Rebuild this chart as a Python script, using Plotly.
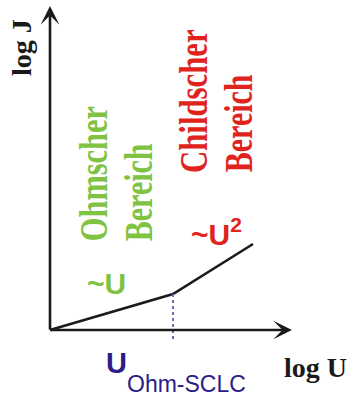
import json
import plotly.graph_objects as go

# Data (log U, log J) in arbitrary log units
log_u = [0, 12.3, 20.3]
log_j = [0, 3.6, 8.6]
u_ohm_sclc = 12.3
j_ohm_sclc = 3.6

# axis extents (arbitrary units)
x_axis_end = 24.2
y_axis_end = 32.4

BLACK = "#1a1a1a"
GREEN = "#80c241"
RED = "#e0241d"
DOT = "#6c6cb8"
NAVY = "#2b1c86"
SERIF = "Liberation Serif, Times New Roman, serif"
SANS = "Liberation Sans, Arial, sans-serif"

fig = go.Figure()

# curve
fig.add_trace(go.Scatter(x=log_u, y=log_j, mode="lines",
                         line=dict(color=BLACK, width=2.6), hoverinfo="skip"))
# dotted marker at crossover voltage
fig.add_trace(go.Scatter(x=[u_ohm_sclc, u_ohm_sclc], y=[j_ohm_sclc, -1.2], mode="lines",
                         line=dict(color=DOT, width=2, dash="dot"), hoverinfo="skip"))

annotations = []
condense = {}
# axes arrows
annotations.append(dict(x=0, y=y_axis_end, ax=0, ay=-0.1, xref="x", yref="y", axref="x", ayref="y",
                        text="", showarrow=True, arrowhead=3, arrowsize=1.2, arrowwidth=2.6,
                        arrowcolor=BLACK, standoff=0))
annotations.append(dict(x=x_axis_end, y=0, ax=-0.1, ay=0, xref="x", yref="y", axref="x", ayref="y",
                        text="", showarrow=True, arrowhead=3, arrowsize=1.2, arrowwidth=2.6,
                        arrowcolor=BLACK, standoff=0))

def txt(x, y, text, size, color, family, angle=0, bold=False, squeeze=None):
    t = f"<b>{text}</b>" if bold else text
    if squeeze:
        condense[str(len(annotations))] = squeeze
    annotations.append(dict(x=x, y=y, xref="x", yref="y", text=t, showarrow=False,
                            font=dict(size=size, color=color, family=family),
                            textangle=angle, xanchor="center", yanchor="middle"))

txt(-2.9, 28.2, "log J", 28, BLACK, SERIF, -90, True)
txt(26.5, -3.7, "log U", 28, BLACK, SERIF, 0, True)
txt(4.4, 15.65, "Ohmscher", 40, GREEN, SERIF, -90, True, 0.76)
txt(8.9, 13.75, "Bereich", 40, GREEN, SERIF, -90, True, 0.75)
txt(14.4, 22.85, "Childscher", 40, RED, SERIF, -90, True, 0.77)
txt(18.85, 20.6, "Bereich", 40, RED, SERIF, -90, True, 0.75)
txt(5.6, 4.7, "~U", 30, GREEN, SANS, 0, True)
txt(16.6, 9.8, "~U<sup>2</sup>", 30, RED, SANS, 0, True)
txt(6.65, -3.3, "U", 29, NAVY, SANS, 0, True)
txt(13.6, -5.4, "Ohm-SCLC", 23, NAVY, SANS, 0, False)

fig.update_layout(
    width=351, height=396,
    margin=dict(l=0, r=0, t=0, b=0),
    paper_bgcolor="white", plot_bgcolor="white",
    showlegend=False,
    xaxis=dict(range=[-5, 30.1], visible=False, fixedrange=True),
    yaxis=dict(range=[-6.6, 33], visible=False, fixedrange=True),
    annotations=annotations,
)

post = """
document.body.style.margin='0';
document.body.style.overflow='hidden';
var gd = document.getElementById('{plot_id}');
var sc = SCALES;
gd.querySelectorAll('g.annotation').forEach(function(a){
  var i = a.getAttribute('data-index');
  if (!(i in sc)) return;
  var t = a.querySelector('text.annotation-text');
  if (!t) return;
  var bb = t.getBBox();
  var cx = bb.x + bb.width/2;
  t.setAttribute('transform', 'translate(' + cx + ',0) scale(' + sc[i] + ',1) translate(' + (-cx) + ',0)');
});
""".replace("SCALES", json.dumps(condense))

fig.write_html("out.html", config={"displayModeBar": False}, post_script=post)
